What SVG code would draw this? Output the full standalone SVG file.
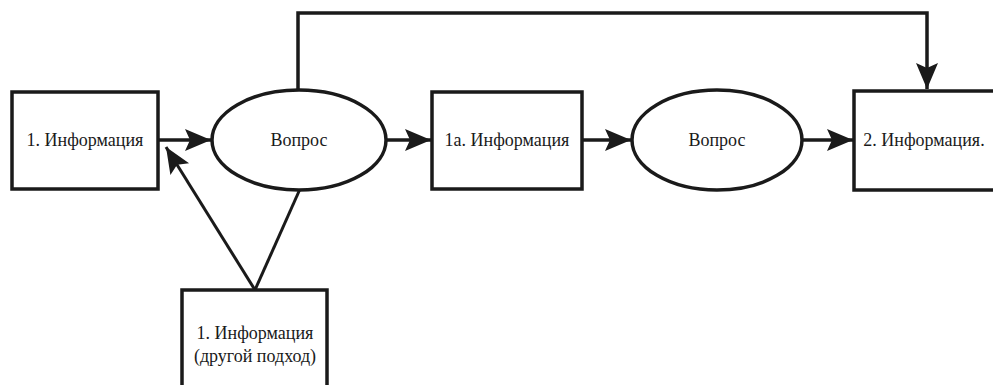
<svg xmlns="http://www.w3.org/2000/svg" width="993" height="385" viewBox="0 0 993 385">
<style>
.box{fill:#fff;stroke:#1a1a1a;stroke-width:3.5}
.lbl{font-family:"Liberation Serif","DejaVu Serif",serif;font-size:18px;fill:#1a1a1a;text-anchor:middle}
.con{fill:none;stroke:#1a1a1a;stroke-width:3.5}
.thin{fill:none;stroke:#1a1a1a;stroke-width:3}
</style>
<defs>
<marker id="ah" markerUnits="userSpaceOnUse" markerWidth="28" markerHeight="26" refX="26" refY="11" orient="auto">
<path d="M0,0 L26,11 L0,22 L5,11 Z" fill="#1a1a1a"/>
</marker>
</defs>
<g id="connectors">
<line class="con" x1="159" y1="140" x2="211" y2="140" marker-end="url(#ah)"/>
<line class="con" x1="386" y1="140" x2="431" y2="140" marker-end="url(#ah)"/>
<line class="con" x1="582" y1="140" x2="631" y2="140" marker-end="url(#ah)"/>
<line class="con" x1="803" y1="140" x2="853" y2="140" marker-end="url(#ah)"/>
<polyline class="con" points="298,90 298,13 927,13 927,89" marker-end="url(#ah)"/>
<line class="thin" x1="255" y1="290" x2="166" y2="147" marker-end="url(#ah)"/>
<line class="thin" x1="255" y1="290" x2="300" y2="189"/>
</g>
<g id="n1">
<rect class="box" x="12" y="92" width="146" height="97"/>
<text class="lbl" x="85" y="146">1. Информация</text>
</g>
<g id="q1">
<ellipse class="box" cx="299" cy="140" rx="87" ry="50"/>
<text class="lbl" x="299" y="146">Вопрос</text>
</g>
<g id="n1a">
<rect class="box" x="432" y="92" width="150" height="97"/>
<text class="lbl" x="507" y="146">1a. Информация</text>
</g>
<g id="q2">
<ellipse class="box" cx="717" cy="140" rx="85" ry="50"/>
<text class="lbl" x="717" y="146">Вопрос</text>
</g>
<g id="n2">
<rect class="box" x="854" y="91" width="150" height="99"/>
<text class="lbl" x="924" y="146">2. Информация.</text>
</g>
<g id="n1alt">
<rect class="box" x="182" y="290" width="145" height="110"/>
<text class="lbl" x="255" y="339">1. Информация</text>
<text class="lbl" x="255" y="362">(другой подход)</text>
</g>
</svg>
